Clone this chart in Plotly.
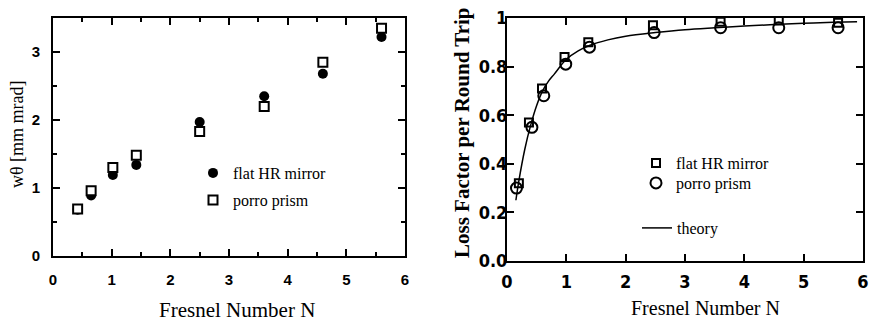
import plotly.graph_objects as go

# ---- data: left panel (beam quality) ----
N_left = [0.42, 0.65, 1.02, 1.42, 2.5, 3.6, 4.6, 5.6]
wtheta_flat = [0.68, 0.89, 1.19, 1.34, 1.97, 2.35, 2.68, 3.22]
wtheta_porro = [0.69, 0.96, 1.30, 1.48, 1.83, 2.20, 2.85, 3.35]

# ---- data: right panel (loss factor) ----
N_flat = [0.2, 0.37, 0.59, 0.97, 1.37, 2.46, 3.6, 4.58, 5.58]
loss_flat = [0.32, 0.57, 0.71, 0.84, 0.90, 0.97, 0.985, 0.99, 0.98]
N_porro = [0.16, 0.42, 0.62, 0.99, 1.39, 2.48, 3.6, 4.58, 5.58]
loss_porro = [0.30, 0.55, 0.68, 0.81, 0.88, 0.94, 0.96, 0.96, 0.96]
N_theory = [0.15, 0.2, 0.3, 0.4, 0.5, 0.6, 0.7, 0.8, 1.0, 1.2, 1.4, 1.7, 2.0, 2.5, 3.0, 3.5, 4.0, 4.5, 5.0, 5.5, 5.9]
loss_theory = [0.25, 0.33, 0.46, 0.56, 0.64, 0.70, 0.74, 0.77, 0.83, 0.865, 0.888, 0.91, 0.925, 0.94, 0.952, 0.96, 0.967, 0.973, 0.978, 0.982, 0.985]

right_yticks = [0.0, 0.2, 0.4, 0.6, 0.8, 1.0]
right_yticklabels = ["0.0", "0.2", "0.4", "0.6", "0.8", "1"]

SERIF = "Liberation Serif, Times New Roman, serif"
SANS = "Liberation Sans, Arial, sans-serif"
NARROW = "Liberation Sans Narrow, DejaVu Sans Condensed, sans-serif"

fig = go.Figure()

# left panel
fig.add_trace(go.Scatter(x=N_left, y=wtheta_flat, mode="markers", name="flat HR mirror",
                         marker=dict(symbol="circle", size=10, color="black"),
                         xaxis="x", yaxis="y", legend="legend"))
fig.add_trace(go.Scatter(x=N_left, y=wtheta_porro, mode="markers", name="porro prism",
                         marker=dict(symbol="square", size=9, color="white", line=dict(width=2, color="black")),
                         xaxis="x", yaxis="y", legend="legend2"))
# right panel
fig.add_trace(go.Scatter(x=N_theory, y=loss_theory, mode="lines", name="theory",
                         line=dict(color="black", width=1.5, shape="spline"),
                         xaxis="x2", yaxis="y2", legend="legend5"))
fig.add_trace(go.Scatter(x=N_flat, y=loss_flat, mode="markers", name="flat HR mirror",
                         marker=dict(symbol="square-open", size=8, color="black", line=dict(width=2)),
                         xaxis="x2", yaxis="y2", legend="legend3"))
fig.add_trace(go.Scatter(x=N_porro, y=loss_porro, mode="markers", name="porro prism",
                         marker=dict(symbol="circle-open", size=11, color="black", line=dict(width=2)),
                         xaxis="x2", yaxis="y2", legend="legend4"))

axis_common = dict(showline=True, linecolor="black", linewidth=2, mirror="allticks",
                   ticks="inside", ticklen=7, tickwidth=1.5, tickcolor="black",
                   showgrid=False, zeroline=False, automargin=False,
                   ticklabeloverflow="allow")

legend_common = dict(xanchor="left", yanchor="middle", bgcolor="rgba(0,0,0,0)",
                     itemwidth=30, font=dict(family=SERIF, size=16, color="black"))

fig.update_layout(
    width=869, height=324,
    margin=dict(l=0, r=0, t=0, b=0),
    paper_bgcolor="white", plot_bgcolor="white",
    showlegend=True,
    xaxis=dict(domain=[53 / 869, 405 / 869], range=[0, 6], dtick=1, anchor="y",
               minor=dict(dtick=0.5, ticks="inside", ticklen=4, tickcolor="black", tickwidth=1.5),
               tickfont=dict(family=SANS, size=15, color="black", weight="bold"),
               ticklabelstandoff=9, **axis_common),
    yaxis=dict(domain=[1 - 256 / 324, 1 - 18 / 324], range=[0, 3.5], dtick=1, anchor="x",
               minor=dict(dtick=0.5, ticks="inside", ticklen=4, tickcolor="black", tickwidth=1.5),
               tickfont=dict(family=SANS, size=15, color="black", weight="bold"),
               ticklabelstandoff=8, **axis_common),
    xaxis2=dict(domain=[507 / 869, 863 / 869], range=[0, 6], dtick=1, anchor="y2",
                tickfont=dict(family=NARROW, size=18, color="black", weight="bold"),
                ticklabelstandoff=3, **axis_common),
    yaxis2=dict(domain=[1 - 261 / 324, 1 - 18 / 324], range=[0, 1], anchor="x2",
                tickvals=right_yticks, ticktext=right_yticklabels,
                tickfont=dict(family=NARROW, size=18, color="black", weight="bold"),
                ticklabelstandoff=-6, **axis_common),
    legend=dict(x=193 / 869, y=1 - 173 / 324, **legend_common),
    legend2=dict(x=193 / 869, y=1 - 200 / 324, **legend_common),
    legend3=dict(x=636 / 869, y=1 - 163 / 324, **legend_common),
    legend4=dict(x=636 / 869, y=1 - 183 / 324, **legend_common),
    legend5=dict(x=637 / 869, y=1 - 228 / 324, **legend_common),
    annotations=[
        dict(text="Fresnel Number N", x=237 / 869, y=1 - 310 / 324, xref="paper", yref="paper",
             xanchor="center", yanchor="middle",
             showarrow=False, font=dict(family=SERIF, size=21, color="black")),
        dict(text="wθ [mm mrad]", x=17 / 869, y=1 - 134 / 324, xref="paper", yref="paper",
             xanchor="center", yanchor="middle",
             showarrow=False, textangle=-90, font=dict(family=SERIF, size=18, color="black")),
        dict(text="Fresnel Number N", x=705 / 869, y=1 - 308 / 324, xref="paper", yref="paper",
             xanchor="center", yanchor="middle",
             showarrow=False, font=dict(family=SERIF, size=20, color="black")),
        dict(text="Loss Factor per Round Trip", x=462 / 869, y=1 - 133 / 324, xref="paper", yref="paper",
             xanchor="center", yanchor="middle",
             showarrow=False, textangle=-90, font=dict(family=SERIF, size=21, color="black", weight="bold")),
    ],
)

fig.write_html("out.html", config={"displayModeBar": False},
               post_script="document.body.style.margin='0px';")
